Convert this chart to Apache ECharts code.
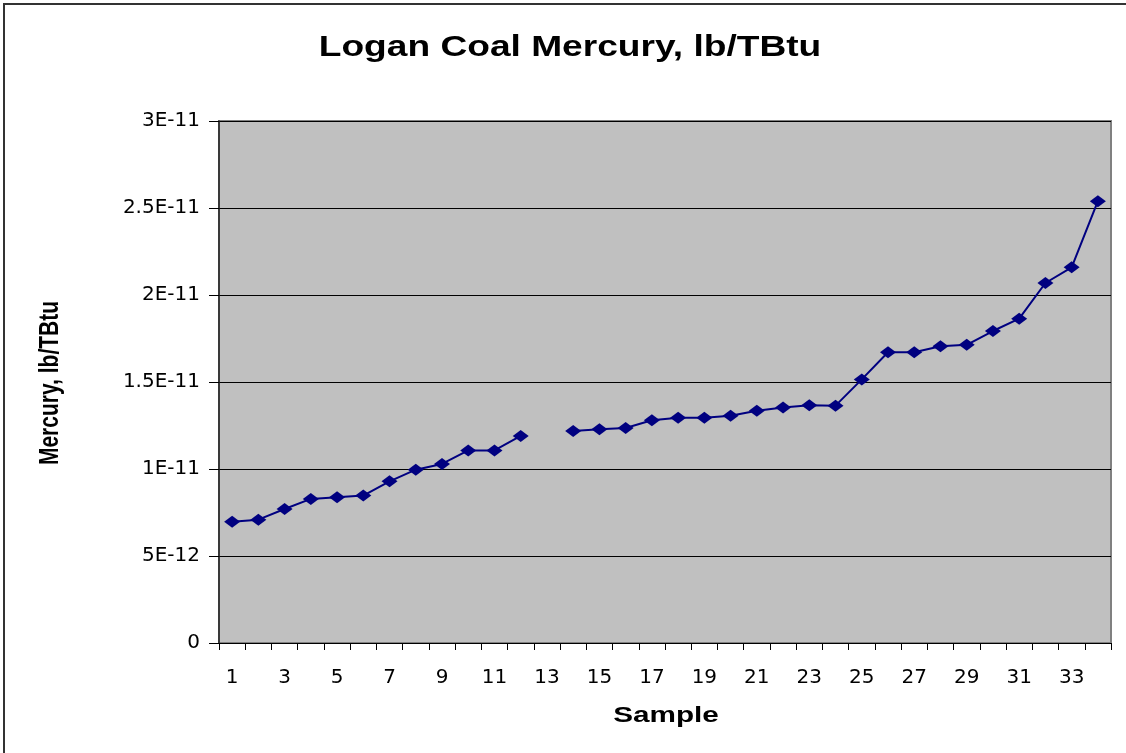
<!DOCTYPE html>
<html>
<head>
<meta charset="utf-8">
<script src="https://cdn.jsdelivr.net/npm/echarts@6/dist/echarts.min.js"></script>
<style>
html,body{margin:0;padding:0;background:#fff;}
#chart{width:1126px;height:753px;}
</style>
</head>
<body>
<div id="chart"></div>
<script>
const titleText = 'Logan Coal Mercury, lb/TBtu';
const xAxisName = 'Sample';
const yAxisName = 'Mercury, lb/TBtu';
const categories = ['1','2','3','4','5','6','7','8','9','10','11','12','13','14','15','16','17','18','19','20','21','22','23','24','25','26','27','28','29','30','31','32','33','34'];
const mercury = [6.97e-12, 7.09e-12, 7.70e-12, 8.28e-12, 8.37e-12, 8.47e-12, 9.29e-12, 9.96e-12, 1.029e-11, 1.107e-11, 1.107e-11, 1.190e-11, null, 1.218e-11, 1.228e-11, 1.236e-11, 1.280e-11, 1.295e-11, 1.295e-11, 1.306e-11, 1.335e-11, 1.354e-11, 1.366e-11, 1.364e-11, 1.515e-11, 1.671e-11, 1.671e-11, 1.705e-11, 1.714e-11, 1.793e-11, 1.864e-11, 2.069e-11, 2.159e-11, 2.539e-11];
const yTickValues = [0, 5e-12, 1e-11, 1.5e-11, 2e-11, 2.5e-11, 3e-11];
const yTickLabels = ['0', '5E-12', '1E-11', '1.5E-11', '2E-11', '2.5E-11', '3E-11'];

const chart = echarts.init(document.getElementById('chart'));
const option = {
  backgroundColor: '#ffffff',
  animation: false,
  graphic: [
    { type: 'rect', z: -10, silent: true,
      shape: { x: 4, y: 4, width: 1400, height: 1000 },
      style: { fill: 'none', stroke: '#333333', lineWidth: 2 } },
    { type: 'text', x: 570, y: 48, scaleX: 1.28, z: 10,
      style: { text: titleText, fontFamily: 'Liberation Sans', fontWeight: 'bold', fontSize: 29,
               fill: '#000', textAlign: 'center', textVerticalAlign: 'middle' } },
    { type: 'text', x: 666, y: 716, scaleX: 1.35, z: 10,
      style: { text: xAxisName, fontFamily: 'Liberation Sans', fontWeight: 'bold', fontSize: 22,
               fill: '#000', textAlign: 'center', textVerticalAlign: 'middle' } },
    { type: 'text', x: 50, y: 383, rotation: Math.PI / 2, scaleY: 1.3, z: 10,
      style: { text: yAxisName, fontFamily: 'Liberation Sans', fontWeight: 'bold', fontSize: 21,
               fill: '#000', textAlign: 'center', textVerticalAlign: 'middle' } }
  ],
  grid: {
    left: 219, right: 15, top: 121, bottom: 110,
    show: true, backgroundColor: '#C0C0C0', borderColor: '#808080', borderWidth: 2
  },
  xAxis: {
    type: 'category',
    data: categories,
    boundaryGap: true,
    axisLine: { lineStyle: { color: '#000', width: 1 } },
    axisTick: { show: true, interval: 0, length: 7, lineStyle: { color: '#000' } },
    axisLabel: { interval: 1, margin: 25, color: '#000', fontFamily: 'DejaVu Sans', fontSize: 20 },
    splitLine: { show: false }
  },
  yAxis: {
    type: 'value',
    min: 0, max: 3e-11, interval: 5e-12,
    axisLine: { show: true, lineStyle: { color: '#222', width: 1.5 } },
    axisTick: { show: true, length: 10, lineStyle: { color: '#000' } },
    axisLabel: {
      margin: 19, color: '#000', fontFamily: 'DejaVu Sans', fontSize: 20,
      formatter: function (v) {
        let best = 0;
        for (let i = 0; i < yTickValues.length; i++) {
          if (Math.abs(yTickValues[i] - v) < Math.abs(yTickValues[best] - v)) best = i;
        }
        return yTickLabels[best];
      }
    },
    splitLine: { show: true, lineStyle: { color: '#000', width: 1 } }
  },
  series: [{
    type: 'line',
    data: mercury,
    connectNulls: false,
    symbol: 'diamond',
    symbolSize: [16, 12],
    showAllSymbol: true,
    itemStyle: { color: '#000080', borderWidth: 0 },
    lineStyle: { color: '#000080', width: 2 }
  }]
};
chart.setOption(option);
</script>
</body>
</html>
